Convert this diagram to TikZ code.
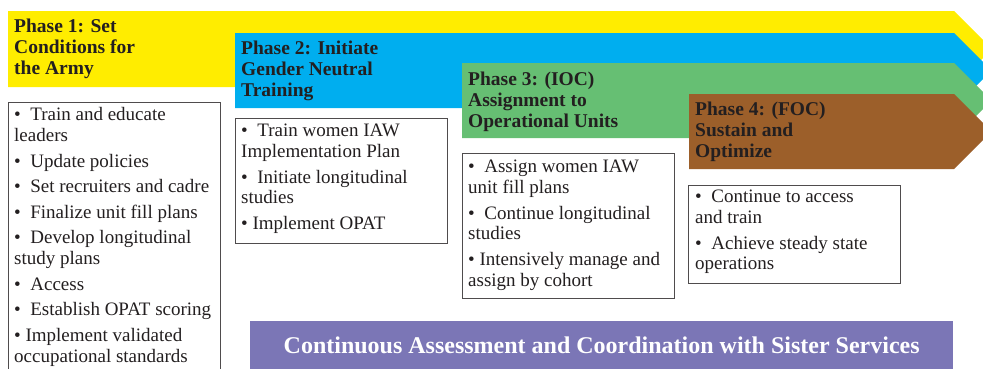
\documentclass[tikz,border=0pt]{standalone}
\usepackage{fontspec}
\setmainfont{Liberation Serif}
\usetikzlibrary{calc}
\definecolor{ylw}{HTML}{FFED00}
\definecolor{cyanb}{HTML}{00AEEF}
\definecolor{grn}{HTML}{66BF73}
\definecolor{brn}{HTML}{9C5F2A}
\definecolor{purp}{HTML}{7B76B6}
\definecolor{ink}{HTML}{231F20}
\begin{document}
\begin{tikzpicture}[x=1pt,y=-1pt,
  phasetext/.style={font=\fontsize{19.5}{21}\selectfont\bfseries, text=ink, align=left, inner sep=0pt, anchor=north west},
  itemtext/.style={font=\fontsize{19}{20.5}\selectfont, text=ink, align=left, inner sep=0pt, anchor=north west},
  listbox/.style={draw=ink!80, line width=0.8pt, fill=white, inner sep=0pt, anchor=north west},
  barbox/.style={fill=purp, inner sep=0pt, anchor=north west}]
\useasboundingbox (0,0) rectangle (983,368);
\clip (0,0) rectangle (983,368);
% chevrons
\fill[ylw] (8,11) -- (954,11) -- (992,49) -- (954,87) -- (8,87) -- cycle;
\fill[cyanb] (235,33) -- (954,33) -- (991.5,70.5) -- (954,108) -- (235,108) -- cycle;
\fill[grn] (462,63) -- (954,63) -- (991.5,100.5) -- (954,138) -- (462,138) -- cycle;
\fill[brn] (689,94) -- (954,94) -- (991.5,131.5) -- (954,169) -- (689,169) -- cycle;
% phase titles
\node[phasetext] (p1) at (14,18.6) {Phase 1: Set\\Conditions for\\the Army};
\node[phasetext] (p2) at (241,40.6) {Phase 2: Initiate\\Gender Neutral\\Training};
\node[phasetext] (p3) at (468,71.4) {Phase 3: (IOC)\\Assignment to\\Operational Units};
\node[phasetext] (p4) at (695,101.4) {Phase 4: (FOC)\\Sustain and\\Optimize};
% list boxes
\node[listbox, minimum width=212pt, minimum height=280pt] (b1) at (8,102) {};
\node[listbox, minimum width=212pt, minimum height=125pt] (b2) at (235,118) {};
\node[listbox, minimum width=212pt, minimum height=145pt] (b3) at (462,153) {};
\node[listbox, minimum width=212pt, minimum height=98pt] (b4) at (688,185) {};
\node[itemtext, font=\fontsize{19}{21}\selectfont] (t1) at ($(b1.north west)+(6,5.5)$) {\textbullet\ \ Train and educate\\leaders\\[4.5pt]
\textbullet\ \ Update policies\\[4.5pt]
\textbullet\ \ Set recruiters and cadre\\[4.5pt]
\textbullet\ \ Finalize unit fill plans\\[4.5pt]
\textbullet\ \ Develop longitudinal\\study plans\\[4.5pt]
\textbullet\ \ Access\\[4.5pt]
\textbullet\ \ Establish OPAT scoring\\[4.5pt]
\textbullet\ Implement validated\\occupational standards};
\node[itemtext] (t2) at ($(b2.north west)+(6,6)$) {\textbullet\ \ Train women IAW\\Implementation Plan\\[5.5pt]
\textbullet\ \ Initiate longitudinal\\studies\\[5.5pt]
\textbullet\ Implement OPAT};
\node[itemtext] (t3) at ($(b3.north west)+(6,7)$) {\textbullet\ \ Assign women IAW\\unit fill plans\\[5.5pt]
\textbullet\ \ Continue longitudinal\\studies\\[5.5pt]
\textbullet\ Intensively manage and\\assign by cohort};
\node[itemtext] (t4) at ($(b4.north west)+(7,5)$) {\textbullet\ \ Continue to access\\and train\\[5.5pt]
\textbullet\ \ Achieve steady state\\operations};
% bottom bar
\node[barbox, minimum width=703pt, minimum height=50pt] (bar) at (250,321) {};
\node[font=\fontsize{24}{26}\selectfont\bfseries, text=white, inner sep=0pt, anchor=base] (bart) at ($(bar.north)+(0,32)$) {Continuous Assessment and Coordination with Sister Services};
\end{tikzpicture}
\end{document}
